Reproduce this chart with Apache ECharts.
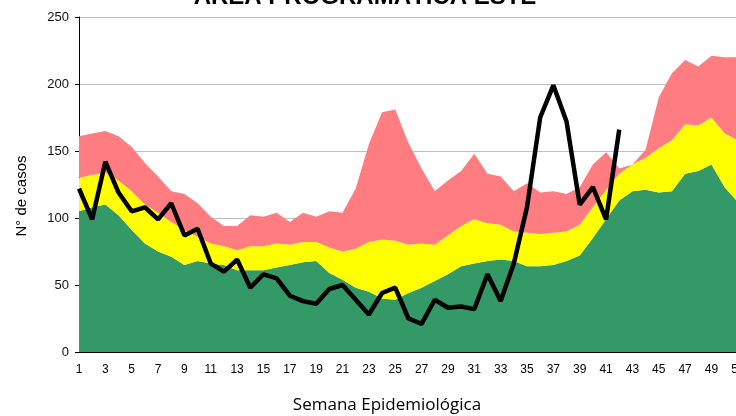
<!DOCTYPE html>
<html>
<head>
<meta charset="utf-8">
<script src="https://cdn.jsdelivr.net/npm/echarts@6/dist/echarts.min.js"></script>
<style>
  html, body { margin: 0; padding: 0; background: #fff; }
  #chart { width: 736px; height: 416px; }
</style>
</head>
<body>
<div id="chart"></div>
<script>
const weeks = Array.from({ length: 52 }, (_, i) => String(i + 1))

// upper limit of each zone of the endemic channel
const zonaExito = [105, 108, 110, 102, 91, 81, 75, 71, 65, 68, 66, 65, 61, 61, 61, 63, 65, 67, 68, 59,
  54, 48, 45, 40, 39, 44, 48, 53, 58, 64, 66, 68, 69, 68, 64, 64, 65, 68, 72, 85,
  99, 113, 120, 121, 119, 120, 133, 135, 140, 123, 112, 105]
const zonaSeguridad = [130, 132, 134, 128, 120, 110, 104, 97, 91, 86, 81, 79, 76, 79, 79, 81, 80, 82, 82, 78,
  75, 77, 82, 84, 83, 80, 81, 80, 87, 94, 99, 96, 95, 90, 89, 88, 89, 90, 95, 108,
  121, 133, 140, 145, 152, 158, 170, 169, 175, 163, 158, 150]
const zonaAlerta = [161, 163, 165, 161, 153, 141, 131, 120, 118, 111, 101, 94, 94, 102, 101, 104, 97, 104, 101, 105,
  104, 122, 155, 179, 181, 156, 137, 120, 128, 135, 148, 133, 131, 120, 126, 119, 120, 118, 123, 140,
  149, 137, 140, 151, 190, 208, 218, 213, 221, 220, 220, 220]
const casos = [122, 99, 142, 119, 105, 108, 99, 111, 87, 92, 66, 60, 69, 48, 58, 55, 42, 38, 36, 47,
  50, 39, 28, 44, 48, 25, 21, 39, 33, 34, 32, 58, 38, 66, 108, 175, 199, 172, 110, 123,
  99, 166]

const yTicks = [0, 50, 100, 150, 200, 250]

const bandGreen = zonaExito
const bandYellow = zonaSeguridad.map((v, i) => v - zonaExito[i])
const bandRed = zonaAlerta.map((v, i) => v - zonaSeguridad[i])

function areaSeries(name, data, color) {
  return {
    name,
    type: 'line',
    stack: 'canal',
    data,
    symbol: 'none',
    lineStyle: { width: 0 },
    areaStyle: { color, opacity: 1 },
    itemStyle: { color },
    z: 2,
  }
}

const chart = echarts.init(document.getElementById('chart'))

chart.setOption({
  animation: false,
  title: {
    text: 'ÁREA PROGRAMÁTICA ESTE',
    left: 360,
    top: -20,
    textAlign: 'center',
    textStyle: {
      fontFamily: 'Liberation Sans',
      fontSize: 24,
      fontWeight: 'bold',
      color: '#000',
    },
  },
  grid: {
    left: 79,
    right: -15,
    top: 17,
    bottom: 64,
    outerBoundsMode: 'none',
  },
  xAxis: {
    type: 'category',
    data: weeks,
    boundaryGap: false,
    axisLine: { lineStyle: { color: '#000', width: 1 } },
    axisTick: { show: false },
    axisLabel: {
      interval: 1,
      margin: 12,
      color: '#000',
      fontFamily: 'Liberation Sans',
      fontSize: 12,
    },
  },
  yAxis: {
    type: 'value',
    min: yTicks[0],
    max: yTicks[yTicks.length - 1],
    interval: 50,
    axisLine: { show: true, lineStyle: { color: '#000', width: 1 } },
    axisTick: { show: true, length: 4, lineStyle: { color: '#000' } },
    splitLine: { lineStyle: { color: '#bfbfbf' } },
    axisLabel: {
      margin: 10,
      color: '#111',
      fontFamily: 'Liberation Sans',
      fontSize: 13,
    },
  },
  graphic: [
    {
      type: 'text',
      x: 22,
      y: 196,
      rotation: Math.PI / 2,
      style: {
        text: 'N° de casos',
        font: '15px "Liberation Sans"',
        fill: '#000',
        align: 'center',
        verticalAlign: 'middle',
      },
    },
    {
      type: 'text',
      x: 387,
      y: 405,
      style: {
        text: 'Semana Epidemiológica',
        font: '17px "Open Sans"',
        fill: '#000',
        align: 'center',
        verticalAlign: 'middle',
      },
    },
  ],
  series: [
    areaSeries('Zona de éxito', bandGreen, '#339966'),
    areaSeries('Zona de seguridad', bandYellow, '#ffff00'),
    areaSeries('Zona de alerta', bandRed, '#ff7c80'),
    {
      name: 'Casos',
      type: 'line',
      data: casos,
      symbol: 'none',
      lineStyle: { color: '#000', width: 4.5 },
      itemStyle: { color: '#000' },
      z: 5,
    },
  ],
})
</script>
</body>
</html>
